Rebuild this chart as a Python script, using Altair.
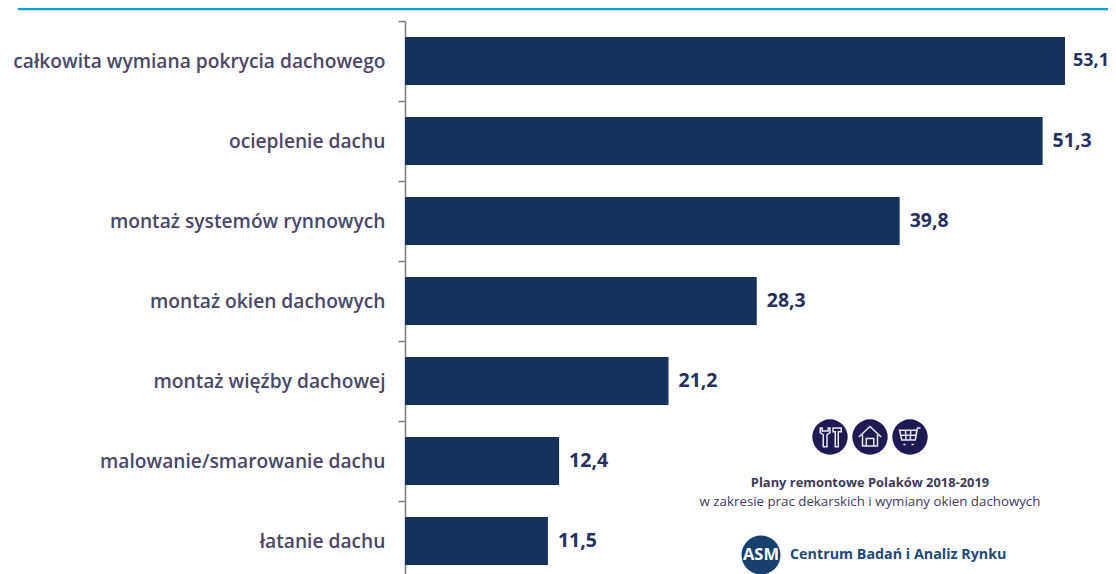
import altair as alt
import pandas as pd

categories = ["całkowita wymiana pokrycia dachowego", "ocieplenie dachu", "montaż systemów rynnowych",
              "montaż okien dachowych", "montaż więźby dachowej", "malowanie/smarowanie dachu", "łatanie dachu"]
values = [53.1, 51.3, 39.8, 28.3, 21.2, 12.4, 11.5]
labels = ["53,1", "51,3", "39,8", "28,3", "21,2", "12,4", "11,5"]

df = pd.DataFrame({"cat": categories, "val": values, "lab": labels})
FONT = "Open Sans"
NAVY = "#16325c"
TXT = "#3d3a5c"
X0, Y0 = 405, 21  # plot-area origin in page pixels

y = alt.Y("cat:N", sort=categories, title=None,
          scale=alt.Scale(range=[0, 560], paddingInner=0, paddingOuter=0),
          axis=alt.Axis(tickBand="extent", domainColor="#7d7a80", tickColor="#7d7a80", domainWidth=1.5, tickWidth=1.5,
                        tickSize=7, labelPadding=13, labelFont=FONT, labelFontSize=19.2, labelFontWeight=600,
                        labelColor="#4a4768", labelLimit=420, grid=False))
x = alt.X("val:Q", title=None, scale=alt.Scale(domain=[0, 56.56], nice=False), axis=None)

bars = alt.Chart(df).mark_bar(color=NAVY, height=48).encode(x=x, y=y)
vals_first = alt.Chart(df.iloc[:1]).mark_text(align="left", baseline="middle", dx=8, font=FONT, fontSize=18,
                                              fontWeight="bold", color="#26305c").encode(x=x, y=y, text="lab:N")
vals_rest = alt.Chart(df.iloc[1:]).mark_text(align="left", baseline="middle", dx=10, font=FONT, fontSize=19.5,
                                             fontWeight="bold", color="#26305c").encode(x=x, y=y, text="lab:N")


def px(v):
    return alt.value(v - X0)


def py(v):
    return alt.value(v - Y0)


top = alt.Chart(pd.DataFrame({"a": [0]})).mark_rule(color="#1f9cc4", strokeWidth=2.5).encode(
    x=px(18), x2=px(1108), y=py(9))

icon_x = [830, 870, 910]
circ = [alt.Chart(pd.DataFrame({"a": [0]})).mark_point(shape="circle", size=1250, filled=True, color="#1d1a54", opacity=1)
        .encode(x=px(v), y=py(437)) for v in icon_x]

WRENCH = "M-0.65,-0.6 L-0.65,-0.3 L-0.45,-0.15 L-0.45,0.65 L-0.2,0.65 L-0.2,-0.15 L0,-0.3 L0,-0.6 L-0.12,-0.6 L-0.12,-0.4 L-0.52,-0.4 L-0.52,-0.6 Z M0.2,-0.6 L0.75,-0.6 L0.75,-0.35 L0.55,-0.35 L0.55,0.65 L0.35,0.65 L0.35,-0.35 L0.2,-0.35 Z"
HOUSE = "M-0.75,0 L0,-0.7 L0.75,0 M-0.5,-0.15 L-0.5,0.6 L0.5,0.6 L0.5,-0.15 M-0.25,0.6 L-0.25,0.1 L0.25,0.1 L0.25,0.6"
CART = "M-0.7,-0.45 L0.45,-0.45 L0.35,0.2 L-0.55,0.2 Z M-0.3,-0.45 L-0.27,0.2 M0.05,-0.45 L0.02,0.2 M-0.62,-0.12 L0.4,-0.12 M0.35,0.2 L0.5,-0.6 L0.7,-0.6 M-0.45,0.5 L-0.3,0.5 M0.1,0.5 L0.25,0.5"
icons = [alt.Chart(pd.DataFrame({"a": [0]})).mark_point(shape=s, size=900, filled=False, stroke="#e8e8ee", strokeWidth=1.5, opacity=1)
         .encode(x=px(v), y=py(437))
         for s, v in [(WRENCH, icon_x[0]), (HOUSE, icon_x[1]), (CART, icon_x[2])]]


def note(t, xp, yp, size, weight="normal", color=TXT, align="center"):
    return alt.Chart(pd.DataFrame({"t": [t]})).mark_text(font=FONT, fontSize=size, fontWeight=weight, color=color,
                                                         align=align, baseline="middle").encode(
        x=px(xp), y=py(yp), text="t:N")


notes = [
    note("Plany remontowe Polaków 2018-2019", 870, 483, 12.9, "bold"),
    note("w zakresie prac dekarskich i wymiany okien dachowych", 870, 502, 13.3),
    note("Centrum Badań i Analiz Rynku", 790, 555, 14.3, "bold", "#1f4a7a", "left"),
]
asm_c = alt.Chart(pd.DataFrame({"a": [0]})).mark_point(shape="circle", size=1520, filled=True, color="#17406f", opacity=1).encode(
    x=px(761), y=py(555))
asm_t = note("ASM", 761, 555, 16.5, "bold", "#ffffff")

chart = alt.layer(bars, vals_first, vals_rest, top, *circ, *icons, *notes, asm_c, asm_t).properties(
    width=703, height=553, background="#ffffff",
    padding={"left": 397, "top": 13, "right": 0, "bottom": 0},
    autosize=alt.AutoSizeParams(type="none"),
).configure_view(stroke=None)

chart.save("out.html", embed_options={"renderer": "svg", "actions": False})
